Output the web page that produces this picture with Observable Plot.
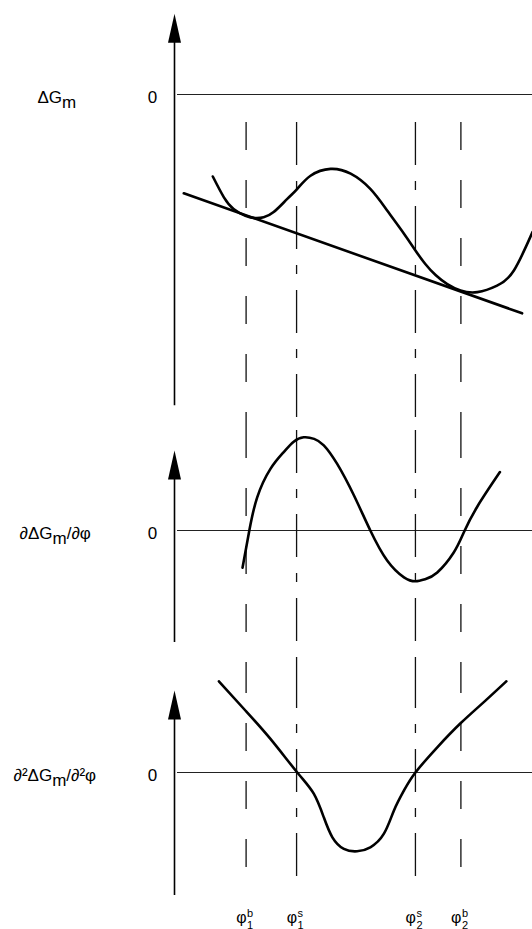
<!DOCTYPE html>
<html>
<head>
<meta charset="utf-8">
<script src="https://cdn.jsdelivr.net/npm/d3@7"></script>
<script src="https://cdn.jsdelivr.net/npm/@observablehq/plot@0.6"></script>
<style>
  html, body { margin: 0; padding: 0; background: #fff; }
  #chart { position: relative; width: 532px; height: 929px; overflow: hidden; }
  #chart svg { position: absolute; left: 0; }
</style>
</head>
<body>
<div id="chart"></div>
<script>
// ---------- DATA ----------
// characteristic compositions (x positions, arbitrary φ units)
const phiValues = [2.0, 3.41, 6.73, 8.0];
const phiKinds  = ["binodal", "spinodal", "spinodal", "binodal"];
const phiBase   = ["φ", "φ", "φ", "φ"];
const phiSup    = ["b", "s", "s", "b"];
const phiSub    = ["1", "1", "2", "2"];

// ΔG_m curve
const gPhi = [1.07, 1.38, 1.65, 1.98, 2.26, 2.49, 2.77, 3.15, 3.43, 3.80, 4.36, 4.92, 5.47, 5.94, 6.41, 6.73, 7.0, 7.3, 7.62, 7.99, 8.46, 9.01, 9.48, 10.0];
const gVal = [-2.05, -2.57, -2.86, -3.03, -3.09, -3.07, -2.94, -2.61, -2.36, -2.03, -1.86, -1.98, -2.36, -2.90, -3.48, -3.90, -4.23, -4.52, -4.74, -4.90, -4.94, -4.78, -4.40, -3.44];

// common tangent
const tangentPhi = [0.26, 9.71];
const tangentVal = [-2.47, -5.47];

// first derivative
const d1Phi = [1.90, 2.09, 2.31, 2.68, 3.05, 3.33, 3.61, 3.90, 4.17, 4.54, 5.01, 5.47, 5.94, 6.41, 6.73, 7.0, 7.34, 7.80, 8.08, 8.46, 9.09];
const d1Val = [-0.93, 0.0, 0.83, 1.54, 1.96, 2.22, 2.33, 2.29, 2.13, 1.67, 0.88, 0.0, -0.75, -1.17, -1.27, -1.22, -1.05, -0.55, -0.05, 0.60, 1.46];

// second derivative
const d2Phi = [1.24, 1.98, 2.68, 3.43, 3.89, 4.17, 4.41, 4.73, 5.10, 5.47, 5.85, 6.13, 6.41, 6.73, 7.34, 7.99, 8.64, 9.27];
const d2Val = [2.28, 1.55, 0.84, 0.0, -0.53, -1.12, -1.62, -1.91, -1.97, -1.87, -1.53, -0.95, -0.45, 0.0, 0.63, 1.23, 1.76, 2.28];

// panel labels (_x = subscript)
const panelLabels = ["ΔG_m", "∂ΔG_m/∂φ", "∂²ΔG_m/∂²φ"];
const zeroLabel = "0";

// ---------- STYLE / LAYOUT ----------
const FONT = "'Liberation Sans', Arial, Helvetica, sans-serif";
const FS = 17;
const W = 532, ML = 174;
const panels = [
  {top: 0,   height: 430, domain: [-8.4, 2.35],   tip: 2.02, axisBottom: -7.78, dashTop: -0.7,  dashBottom: -8.4,   labelDx: -137,
   curves: [[gPhi, gVal], [tangentPhi, tangentVal]]},
  {top: 430, height: 235, domain: [-3.375, 2.5],  tip: 2.0,  axisBottom: -2.8,  dashTop: 2.5,   dashBottom: -3.375, labelDx: -155,
   curves: [[d1Phi, d1Val]]},
  {top: 665, height: 264, domain: [-3.925, 2.675], tip: 2.05, axisBottom: -3.075, dashTop: 2.675, dashBottom: -2.98, labelDx: -161,
   curves: [[d2Phi, d2Val]], phiLabels: true}
];

const triangle = {
  draw(context, l, r) {
    context.moveTo(-r, 0);
    context.lineTo(0, -l);
    context.lineTo(r, 0);
    context.closePath();
  }
};

const idx = d3.range(phiValues.length);
const binodal = idx.filter(i => phiKinds[i] === "binodal").map(i => phiValues[i]);
const spinodal = idx.filter(i => phiKinds[i] === "spinodal").map(i => phiValues[i]);

function richify(svg) {
  svg.querySelectorAll("text").forEach(t => {
    const s = t.textContent;
    if (!s.includes("_")) return;
    t.textContent = "";
    let shift = 0;
    for (const p of s.split(/(_.)/)) {
      if (!p) continue;
      const ts = document.createElementNS("http://www.w3.org/2000/svg", "tspan");
      if (p.startsWith("_")) {
        ts.textContent = p.slice(1);
        ts.setAttribute("dy", 5);
        shift = 5;
      } else {
        ts.textContent = p;
        if (shift) { ts.setAttribute("dy", -shift); shift = 0; }
      }
      t.appendChild(ts);
    }
  });
}

const chart = document.getElementById("chart");

panels.forEach((cfg, pi) => {
  const marks = [
    // zero line
    Plot.ruleY([0], {x1: 0.084, x2: 10, stroke: "#222", strokeWidth: 1.2}),
    // dashed guide lines
    Plot.ruleX(binodal, {y1: cfg.dashTop, y2: cfg.dashBottom, stroke: "#111", strokeWidth: 1.3, strokeDasharray: "28,30"}),
    Plot.ruleX(spinodal, {y1: cfg.dashTop, y2: cfg.dashBottom, stroke: "#111", strokeWidth: 1.3, strokeDasharray: "43,16,9,16"}),
    // vertical axis
    Plot.ruleX([0], {y1: cfg.axisBottom, y2: cfg.tip - 0.5, stroke: "#000", strokeWidth: 1.6}),
    Plot.vector([{x: 0, y: cfg.tip}], {x: "x", y: "y", length: 29, rotate: 0, anchor: "end", r: 6.5, shape: triangle, fill: "#000", stroke: "none"}),
    // curves
    ...cfg.curves.map(([xs, ys]) => Plot.line({length: xs.length}, {x: xs, y: ys, curve: "natural", stroke: "#000", strokeWidth: 2.6})),
    // labels
    Plot.text([panelLabels[pi]], {x: 0, y: 0, text: d => d, dx: cfg.labelDx, dy: 8, textAnchor: "start", lineAnchor: "bottom", fontSize: FS, fill: "#000"}),
    Plot.text([zeroLabel], {x: 0, y: 0, text: d => d, dx: -22, dy: 8, textAnchor: "middle", lineAnchor: "bottom", fontSize: FS, fill: "#000"})
  ];
  if (cfg.phiLabels) {
    marks.push(
      Plot.text(idx, {x: i => phiValues[i], y: -3.8, text: i => phiBase[i], textAnchor: "end", lineAnchor: "bottom", dx: 0.5, dy: -2, fontSize: 16, fill: "#000"}),
      Plot.text(idx, {x: i => phiValues[i], y: -3.8, text: i => phiSup[i], textAnchor: "start", lineAnchor: "bottom", dx: 1, dy: -8, fontSize: 11, fill: "#000"}),
      Plot.text(idx, {x: i => phiValues[i], y: -3.8, text: i => phiSub[i], textAnchor: "start", lineAnchor: "bottom", dx: 1, dy: 4, fontSize: 11, fill: "#000"})
    );
  }
  const svg = Plot.plot({
    width: W,
    height: cfg.height,
    marginLeft: ML,
    marginRight: 0,
    marginTop: 0,
    marginBottom: 0,
    x: {domain: [0, 10], axis: null},
    y: {domain: cfg.domain, axis: null},
    style: {fontFamily: FONT, fontSize: FS + "px", background: "transparent", overflow: "visible"},
    marks
  });
  svg.style.top = cfg.top + "px";
  chart.appendChild(svg);
  richify(svg);
});
</script>
</body>
</html>
